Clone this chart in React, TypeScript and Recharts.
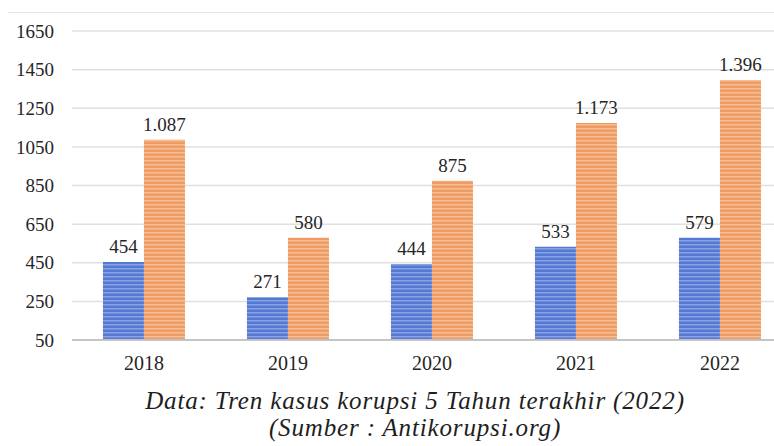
import { BarChart, Bar, XAxis, YAxis, CartesianGrid, LabelList } from 'recharts';

const YEARS = ['2018', '2019', '2020', '2021', '2022'];
const BLUE_VALUES = [454, 271, 444, 533, 579];
const ORANGE_VALUES = [1087, 580, 875, 1173, 1396];
const Y_TICKS = [50, 250, 450, 650, 850, 1050, 1250, 1450, 1650];

const data = YEARS.map((year, i) => ({
  year,
  blue: BLUE_VALUES[i],
  orange: ORANGE_VALUES[i],
}));

const SERIF = '"Liberation Serif", "Times New Roman", serif';
const TEXT = '#262626';

// 1087 -> "1.087"
const fmt = (v: any) => {
  const n = Number(v);
  return n >= 1000 ? n.toLocaleString('de-DE') : String(n);
};

export default function App() {
  return (
    <div
      style={{
        position: 'absolute',
        left: 0,
        top: 0,
        width: 774,
        height: 446,
        overflow: 'hidden',
        background: '#fff',
        fontFamily: SERIF,
      }}
    >
      <div style={{ position: 'absolute', left: 8, right: 0, top: 12, borderTop: '1px solid #e4e4e4' }} />
      <BarChart
        width={792}
        height={380}
        data={data}
        margin={{ top: 31, right: 0, left: 0, bottom: 0 }}
        barCategoryGap="21.5%"
        barGap={0}
      >
        <defs>
          <pattern id="blueStripe" width="8" height="4" patternUnits="userSpaceOnUse">
            <rect width="8" height="4" fill="#5479d3" />
            <rect width="8" height="1.5" fill="#88a2e3" />
          </pattern>
          <pattern id="orangeStripe" width="8" height="4" patternUnits="userSpaceOnUse">
            <rect width="8" height="4" fill="#ee9a60" />
            <rect width="8" height="1.5" fill="#f6be95" />
          </pattern>
        </defs>
        <CartesianGrid vertical={false} stroke="#e0e0e0" strokeWidth={1.5} />
        <XAxis
          dataKey="year"
          height={40}
          tickLine={false}
          axisLine={{ stroke: '#c4c4c4', strokeWidth: 2 }}
          tickMargin={10}
          tick={{ fill: TEXT, fontSize: 20, fontFamily: SERIF }}
        />
        <YAxis
          width={72}
          domain={[50, 1650]}
          ticks={Y_TICKS}
          interval={0}
          tickLine={false}
          axisLine={false}
          tickMargin={12}
          tick={{ fill: TEXT, fontSize: 19, fontFamily: SERIF }}
        />
        <Bar dataKey="blue" fill="url(#blueStripe)" isAnimationActive={false}>
          <LabelList
            dataKey="blue"
            position="top"
            offset={9}
            formatter={fmt}
            style={{ fill: TEXT, fontSize: 19, fontFamily: SERIF }}
          />
        </Bar>
        <Bar dataKey="orange" fill="url(#orangeStripe)" isAnimationActive={false}>
          <LabelList
            dataKey="orange"
            position="top"
            offset={9}
            formatter={fmt}
            style={{ fill: TEXT, fontSize: 19, fontFamily: SERIF }}
          />
        </Bar>
      </BarChart>
      <div
        style={{
          position: 'absolute',
          left: 0,
          width: 830,
          top: 387,
          textAlign: 'center',
          fontStyle: 'italic',
          fontSize: 25,
          letterSpacing: 0.85,
          lineHeight: '27px',
          color: '#1e1e1e',
          whiteSpace: 'nowrap',
        }}
      >
        <div>Data: Tren kasus korupsi 5 Tahun terakhir (2022)</div>
        <div>(Sumber : Antikorupsi.org)</div>
      </div>
    </div>
  );
}
